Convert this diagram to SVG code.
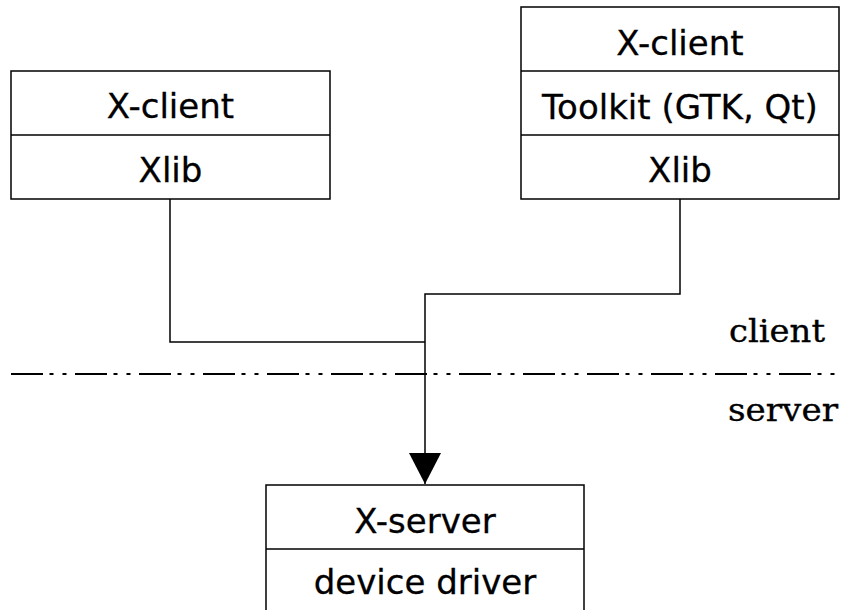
<svg xmlns="http://www.w3.org/2000/svg" width="841" height="610" viewBox="0 0 841 610">
<defs>
<style>
.box{fill:#fff;stroke:#000;stroke-width:1.5}
.div{stroke:#000;stroke-width:1.5}
.t{font-family:"DejaVu Sans",sans-serif;font-size:34px;text-anchor:middle;fill:#000;stroke:#000;stroke-width:0.3}
.s{font-family:"DejaVu Serif",serif;font-size:32px;fill:#000;stroke:#000;stroke-width:0.35}
.c{fill:none;stroke:#000;stroke-width:1.5}
</style>
<marker id="arr" markerUnits="userSpaceOnUse" markerWidth="32" markerHeight="34" refX="31" refY="16" orient="auto">
<path d="M0,0 L31,16 L0,32 Z" fill="#000"/>
</marker>
</defs>
<rect width="841" height="610" fill="#fff"/>
<g id="connectors">
<polyline class="c" points="170,199 170,342 425,342"/>
<polyline class="c" points="680,199 680,294 425,294 425,484" marker-end="url(#arr)"/>
</g>
<g id="separator">
<line x1="11" y1="374" x2="836" y2="374" stroke="#000" stroke-width="2" stroke-dasharray="32 6.5 4 9 4 8.5"/>
<text class="s" x="729" y="342" textLength="96" lengthAdjust="spacingAndGlyphs">client</text>
<text class="s" x="728" y="421" textLength="110" lengthAdjust="spacingAndGlyphs">server</text>
</g>
<g id="client-left">
<rect class="box" x="11" y="71" width="319" height="128"/>
<line class="div" x1="11" y1="135" x2="330" y2="135"/>
<text class="t" x="170.5" y="118">X-client</text>
<text class="t" x="170.5" y="182">Xlib</text>
</g>
<g id="client-right">
<rect class="box" x="521" y="7" width="318" height="192"/>
<line class="div" x1="521" y1="71" x2="839" y2="71"/>
<line class="div" x1="521" y1="135" x2="839" y2="135"/>
<text class="t" x="680" y="55">X-client</text>
<text class="t" x="680" y="119">Toolkit (GTK, Qt)</text>
<text class="t" x="680" y="182">Xlib</text>
</g>
<g id="server">
<rect class="box" x="266" y="485" width="318" height="140"/>
<line class="div" x1="266" y1="549" x2="584" y2="549"/>
<text class="t" x="425" y="533">X-server</text>
<text class="t" x="425" y="594">device driver</text>
</g>
</svg>
